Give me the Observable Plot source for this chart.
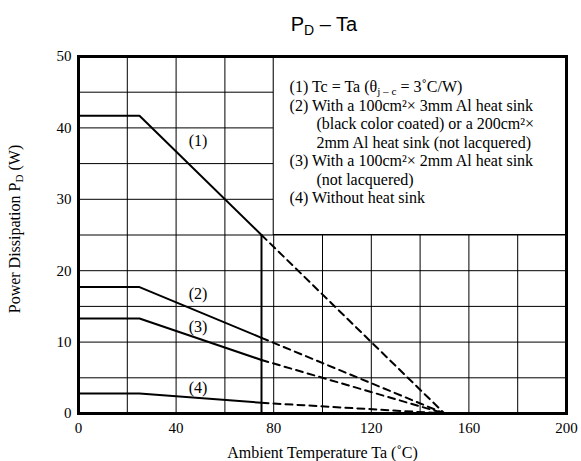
<!DOCTYPE html>
<html>
<head>
<meta charset="utf-8">
<script src="https://cdn.jsdelivr.net/npm/d3@7"></script>
<script src="https://cdn.jsdelivr.net/npm/@observablehq/plot@0.6"></script>
<style>
  body { margin: 0; background: #fff; }
  #wrap { width: 581px; }
  #title { position: relative; height: 40px; width: 581px; }
  #title div { position: absolute; left: 224px; width: 200px; top: 13px; text-align: center;
    font: 20px "Liberation Sans", Arial, sans-serif; line-height: 22px; color: #000; }
  #title .sub { font-size: 14px; position: relative; top: 4px; }
</style>
</head>
<body>
<div id="wrap">
  <div id="title"><div>P<span class="sub">D</span> – Ta</div></div>
  <div id="chart"></div>
</div>
<script>
// ---- data ----
const seriesNames = ["(1)", "(2)", "(3)", "(4)"];
const ta = [0, 25, 75];               // ambient temperature breakpoints (°C)
const pd1 = [41.7, 41.7, 25];
const pd2 = [17.7, 17.7, 10.6];
const pd3 = [13.3, 13.3, 7.5];
const pd4 = [2.8, 2.8, 1.5];
const taZero = 150;                    // extrapolated zero-power temperature
const xTicks = [0, 40, 80, 120, 160, 200];
const yTicks = [0, 10, 20, 30, 40, 50];
const xGrid = [20, 40, 60, 80, 100, 120, 140, 160, 180];
const yGrid = [5, 10, 15, 20, 25, 30, 35, 40, 45];
const labelX = [49, 49, 49, 49];
const labelY = [38.2, 16.8, 12.2, 3.6];
const legendBoxX = [80, 200];
const legendBoxY = [25, 50];
const legendLines = [
  "(1) Tc = Ta (θ_{j – c} = 3˚C/W)",
  "(2) With a 100cm²× 3mm Al heat sink",
  "(black color coated) or a 200cm²×",
  "2mm Al heat sink (not lacquered)",
  "(3) With a 100cm²× 2mm Al heat sink",
  "(not lacquered)",
  "(4) Without heat sink"
];
const legendIndent = [0, 0, 1, 1, 0, 1, 0];
const xLabel = "Ambient Temperature Ta (˚C)";
const yLabel = "Power Dissipation P_{D} (W)";

// ---- build tables ----
const pdSeries = [pd1, pd2, pd3, pd4];
const solidRows = seriesNames.flatMap((s, i) => ta.map((t, j) => ({s, ta: t, pd: pdSeries[i][j]})));
const dashRows = seriesNames.flatMap((s, i) => [
  {s, ta: ta[ta.length - 1], pd: pdSeries[i][ta.length - 1]},
  {s, ta: taZero, pd: 0}
]);
const legendBox = [{x1: legendBoxX[0], x2: legendBoxX[1], y1: legendBoxY[0], y2: legendBoxY[1]}];
const legendX0 = 86.5, legendX1 = 97.5, legendTop = 45.7, legendStep = 2.59;

const chart = Plot.plot({
  width: 581,
  height: 421,
  marginTop: 16,
  marginBottom: 48,
  marginLeft: 78,
  marginRight: 15,
  style: {fontFamily: "'Liberation Serif','Times New Roman',serif", fontSize: "15px", color: "#000", background: "#fff"},
  x: {domain: [0, 200], ticks: xTicks, tickSize: 0, tickPadding: 9, label: null},
  y: {domain: [0, 50], ticks: yTicks, tickSize: 0, tickPadding: 7, label: null},
  marks: [
    Plot.ruleX(xGrid, {stroke: "#000", strokeWidth: 1}),
    Plot.ruleY(yGrid, {stroke: "#000", strokeWidth: 1}),
    Plot.rect(legendBox, {x1: "x1", x2: "x2", y1: "y1", y2: "y2", fill: "#fff", stroke: "#000", strokeWidth: 1}),
    Plot.line(solidRows, {x: "ta", y: "pd", z: "s", stroke: "#000", strokeWidth: 2}),
    Plot.ruleX([ta[ta.length - 1]], {y1: 0, y2: pd1[pd1.length - 1], stroke: "#000", strokeWidth: 2}),
    Plot.line(dashRows, {x: "ta", y: "pd", z: "s", stroke: "#000", strokeWidth: 2, strokeDasharray: "7,5"}),
    Plot.text(seriesNames, {x: (d, i) => labelX[i], y: (d, i) => labelY[i], text: d => d, fontSize: 16}),
    Plot.text(legendLines, {
      x: (d, i) => legendIndent[i] ? legendX1 : legendX0,
      y: (d, i) => legendTop - i * legendStep,
      text: d => d, textAnchor: "start", fontSize: 16
    }),
    Plot.frame({stroke: "#000", strokeWidth: 3}),
    Plot.text([yLabel], {frameAnchor: "left", dx: -64, dy: -6, rotate: -90, textAnchor: "middle", lineAnchor: "middle", text: d => d, fontSize: 16}),
    Plot.text([xLabel], {frameAnchor: "bottom", dy: 39, textAnchor: "middle", lineAnchor: "middle", text: d => d, fontSize: 16})
  ]
});

// subscripts written as _{...}
d3.select(chart).selectAll("text").each(function () {
  const s = this.textContent;
  if (!s || !s.includes("_{")) return;
  const sel = d3.select(this);
  sel.text(null);
  const parts = s.split(/_\{([^}]*)\}/);
  let shifted = false;
  parts.forEach((p, k) => {
    if (p === "") return;
    const t = sel.append("tspan").text(p);
    if (k % 2 === 1) {
      t.attr("font-size", "70%").attr("dy", shifted ? null : "3");
      shifted = true;
    } else if (shifted) {
      t.attr("dy", "-3");
      shifted = false;
    }
  });
});

document.getElementById("chart").appendChild(chart);
</script>
</body>
</html>
